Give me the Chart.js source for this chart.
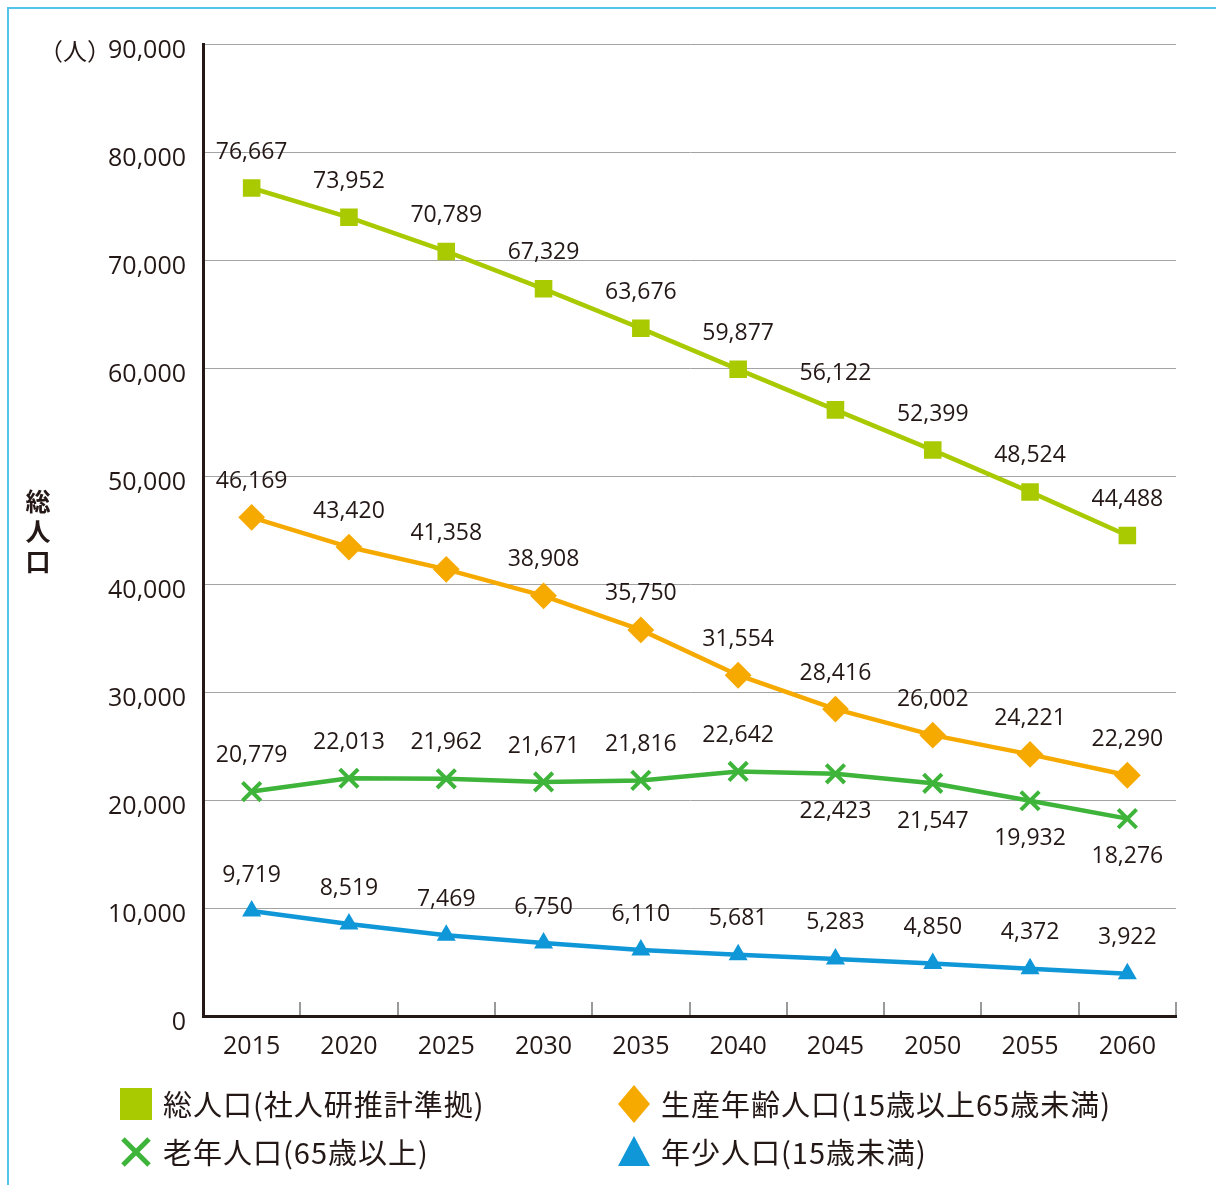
<!DOCTYPE html>
<html lang="ja">
<head>
<meta charset="utf-8">
<title>人口推計</title>
<script src="https://cdn.jsdelivr.net/npm/chart.js@4/dist/chart.umd.min.js"></script>
<style>
  html, body { margin: 0; padding: 0; background: #ffffff; }
  #wrap { position: relative; width: 1216px; height: 1185px; overflow: hidden; }
  #frame {
    position: absolute; left: 7px; top: 7px; right: -10px; bottom: -10px;
    border-left: 2px solid #56c3e8; border-top: 2px solid #56c3e8;
    pointer-events: none;
  }
  canvas { position: absolute; left: 0; top: 0; }
</style>
</head>
<body>
<div id="wrap">
  <canvas id="chart" width="1216" height="1185"></canvas>
  <div id="frame"></div>
</div>
<script>
// 年次
const years = ['2015', '2020', '2025', '2030', '2035', '2040', '2045', '2050', '2055', '2060'];

// 総人口（社人研推計準拠）
const totalPop = [76667, 73952, 70789, 67329, 63676, 59877, 56122, 52399, 48524, 44488];
// 生産年齢人口（15歳以上65歳未満）
const workingPop = [46169, 43420, 41358, 38908, 35750, 31554, 28416, 26002, 24221, 22290];
// 老年人口（65歳以上）
const elderlyPop = [20779, 22013, 21962, 21671, 21816, 22642, 22423, 21547, 19932, 18276];
// 年少人口（15歳未満）
const childPop = [9719, 8519, 7469, 6750, 6110, 5681, 5283, 4850, 4372, 3922];

// 縦軸の目盛
const yTicks = [0, 10000, 20000, 30000, 40000, 50000, 60000, 70000, 80000, 90000];

const seriesNames = [
  '総人口(社人研推計準拠)',
  '生産年齢人口(15歳以上65歳未満)',
  '老年人口(65歳以上)',
  '年少人口(15歳未満)'
];

const TEXT = '#231815';
const NUM_FONT = '"Open Sans", "Noto Sans", sans-serif';
const JP_FONT = '"Noto Sans CJK JP", "Noto Sans", sans-serif';
const fmt = v => v.toLocaleString('en-US');

const COLORS = {
  total: '#a9c900',
  working: '#f6aa00',
  elderly: '#3eb43a',
  child: '#0f97d8'
};

// 数値ラベル（老年人口は後半を線の下に置く）
const valueLabels = {
  id: 'valueLabels',
  afterDatasetsDraw(chart) {
    const ctx = chart.ctx;
    ctx.save();
    ctx.font = '500 23px ' + NUM_FONT;
    ctx.fillStyle = TEXT;
    ctx.textAlign = 'center';
    ctx.textBaseline = 'middle';
    chart.data.datasets.forEach((ds, di) => {
      const meta = chart.getDatasetMeta(di);
      meta.data.forEach((pt, i) => {
        const below = ds.labelBelow && ds.labelBelow(i);
        const y = below ? pt.y + 38 : pt.y - 36;
        ctx.fillText(fmt(ds.data[i]), pt.x, y);
      });
    });
    ctx.restore();
  }
};

// 横軸の区切り目盛（内向き）
const innerTicks = {
  id: 'innerTicks',
  afterDraw(chart) {
    const xs = chart.scales.x;
    const ca = chart.chartArea;
    const ctx = chart.ctx;
    const n = years.length;
    const step = (xs.getPixelForTick(n - 1) - xs.getPixelForTick(0)) / (n - 1);
    ctx.save();
    ctx.strokeStyle = '#9a9a9a';
    ctx.lineWidth = 2;
    for (let i = 0; i < n; i++) {
      const x = Math.round(xs.getPixelForTick(i) + step / 2);
      ctx.beginPath();
      ctx.moveTo(x, ca.bottom - 1);
      ctx.lineTo(x, ca.bottom - 14);
      ctx.stroke();
    }
    ctx.restore();
  }
};

// 凡例の記号
function drawMarker(ctx, style, color, cx, cy) {
  ctx.save();
  ctx.fillStyle = color;
  ctx.strokeStyle = color;
  ctx.beginPath();
  if (style === 'rect') {
    ctx.fillRect(cx - 16, cy - 16, 32, 32);
  } else if (style === 'rectRot') {
    ctx.moveTo(cx, cy - 19);
    ctx.lineTo(cx + 16, cy);
    ctx.lineTo(cx, cy + 19);
    ctx.lineTo(cx - 16, cy);
    ctx.closePath();
    ctx.fill();
  } else if (style === 'crossRot') {
    ctx.lineWidth = 5;
    ctx.moveTo(cx - 13, cy - 13);
    ctx.lineTo(cx + 13, cy + 13);
    ctx.moveTo(cx + 13, cy - 13);
    ctx.lineTo(cx - 13, cy + 13);
    ctx.stroke();
  } else if (style === 'triangle') {
    ctx.moveTo(cx, cy - 16);
    ctx.lineTo(cx + 16, cy + 14);
    ctx.lineTo(cx - 16, cy + 14);
    ctx.closePath();
    ctx.fill();
  }
  ctx.restore();
}

// 単位・軸タイトル・凡例
const decorations = {
  id: 'decorations',
  afterDraw(chart) {
    const ctx = chart.ctx;
    ctx.save();
    ctx.fillStyle = TEXT;

    // 単位
    ctx.font = '24px ' + JP_FONT;
    ctx.textAlign = 'right';
    ctx.textBaseline = 'middle';
    ctx.fillText('（人）', 111, 51);

    // 縦書きの軸タイトル
    ctx.font = 'bold 25px ' + JP_FONT;
    ctx.textAlign = 'center';
    ['総', '人', '口'].forEach((ch, i) => ctx.fillText(ch, 38, 501 + i * 30));

    // 凡例（2列）
    ctx.font = '29px ' + JP_FONT;
    ctx.letterSpacing = '1px';
    ctx.textAlign = 'left';
    const colX = [136, 634];
    const rowY = [1104, 1152];
    chart.data.datasets.forEach((ds, i) => {
      const cx = colX[i % 2];
      const cy = rowY[Math.floor(i / 2)];
      drawMarker(ctx, ds.pointStyle, ds.borderColor, cx, cy);
      ctx.fillStyle = TEXT;
      ctx.fillText(ds.label, cx + 27, cy + 1);
    });
    ctx.restore();
  }
};

new Chart(document.getElementById('chart'), {
  type: 'line',
  data: {
    labels: years,
    datasets: [
      {
        label: seriesNames[0], data: totalPop,
        borderColor: COLORS.total, backgroundColor: COLORS.total,
        pointStyle: 'rect', pointRadius: 11, pointBorderWidth: 2
      },
      {
        label: seriesNames[1], data: workingPop,
        borderColor: COLORS.working, backgroundColor: COLORS.working,
        pointStyle: 'rectRot', pointRadius: 12, pointBorderWidth: 2
      },
      {
        label: seriesNames[2], data: elderlyPop,
        borderColor: COLORS.elderly, backgroundColor: COLORS.elderly,
        pointStyle: 'crossRot', pointRadius: 13, pointBorderWidth: 4,
        labelBelow: i => i >= 6
      },
      {
        label: seriesNames[3], data: childPop,
        borderColor: COLORS.child, backgroundColor: COLORS.child,
        pointStyle: 'triangle', pointRadius: 9, pointBorderWidth: 2
      }
    ]
  },
  options: {
    responsive: false,
    animation: false,
    devicePixelRatio: 1,
    layout: { padding: { top: 44, right: 40, left: 0, bottom: 0 } },
    elements: { line: { borderWidth: 4.5, tension: 0 } },
    plugins: {
      legend: { display: false },
      tooltip: { enabled: false }
    },
    scales: {
      x: {
        type: 'category',
        offset: true,
        grid: { display: false },
        border: { display: true, color: TEXT, width: 3 },
        ticks: { color: TEXT, font: { family: NUM_FONT, size: 25, weight: '500' }, padding: 8, maxRotation: 0 },
        afterFit(scale) { scale.height = 169; }
      },
      y: {
        min: 0, max: 90000,
        afterBuildTicks(scale) { scale.ticks = yTicks.map(v => ({ value: v })); },
        grid: { color: '#a3a3a3', lineWidth: 1, drawTicks: false },
        border: { display: true, color: TEXT, width: 3 },
        ticks: {
          color: TEXT, font: { family: NUM_FONT, size: 25, weight: '500' }, padding: 17, labelOffset: 7,
          callback: v => fmt(v)
        },
        afterFit(scale) { scale.width = 203; }
      }
    }
  },
  plugins: [valueLabels, innerTicks, decorations]
});
</script>
</body>
</html>
